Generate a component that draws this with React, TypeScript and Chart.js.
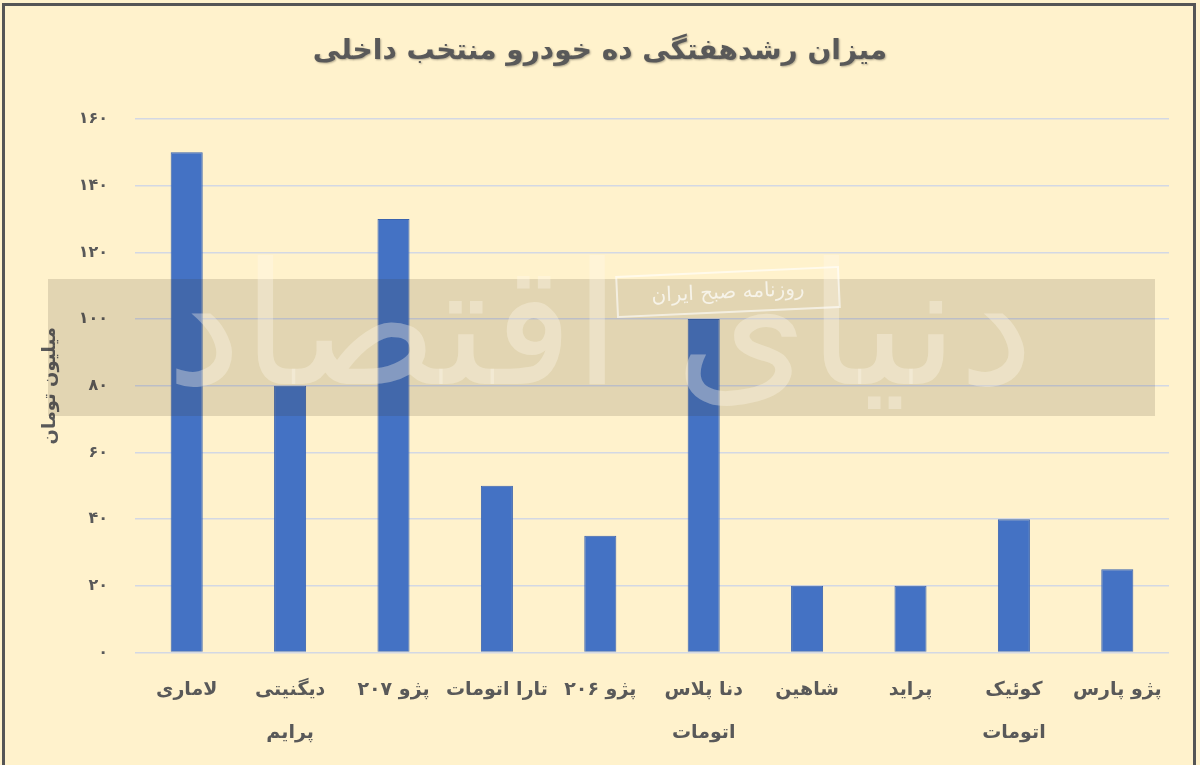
import React, { useEffect, useRef } from "react";
import { Chart, registerables } from "chart.js";

Chart.register(...registerables);

const chartTitle = "میزان رشدهفتگی ده خودرو منتخب داخلی";
const yAxisTitle = "میلیون تومان";
const categories: string[][] = [
  ["لاماری"],
  ["دیگنیتی", "پرایم"],
  ["پژو ۲۰۷"],
  ["تارا اتومات"],
  ["پژو ۲۰۶"],
  ["دنا پلاس", "اتومات"],
  ["شاهین"],
  ["پراید"],
  ["کوئیک", "اتومات"],
  ["پژو پارس"],
];
const growthValues = [150, 80, 130, 50, 35, 100, 20, 20, 40, 25];
const yMin = 0;
const yMax = 160;
const yStep = 20;
const watermarkLogo = "دنیای اقتصاد";
const watermarkTag = "روزنامه صبح ایران";

const FONT = "'DejaVu Sans', 'Noto Sans', sans-serif";
const TEXT = "#595959";

const toPersian = (v: number | string) =>
  String(v).replace(/\d/g, (d) => "۰۱۲۳۴۵۶۷۸۹"[Number(d)]);

const decorPlugin = {
  id: "decor",
  beforeDraw(chart: any) {
    const { ctx, width, height } = chart;
    ctx.save();
    ctx.fillStyle = "#FFF2CC";
    ctx.fillRect(0, 0, width, height);
    ctx.restore();
  },
  afterDatasetsDraw(chart: any) {
    const { ctx } = chart;
    ctx.save();
    // grey band
    ctx.fillStyle = "rgba(60,50,35,0.15)";
    ctx.fillRect(48, 279, 1107, 137);
    // big faint logo
    ctx.font = `170px ${FONT}`;
    ctx.textAlign = "center";
    ctx.textBaseline = "middle";
    ctx.fillStyle = "rgba(255,250,235,0.35)";
    ctx.fillText(watermarkLogo, 600, 340);
    // tag box
    ctx.translate(728, 292);
    ctx.rotate(-0.045);
    ctx.strokeStyle = "rgba(255,255,255,0.6)";
    ctx.lineWidth = 2;
    ctx.strokeRect(-111, -20, 222, 40);
    ctx.fillStyle = "rgba(255,255,255,0.7)";
    ctx.font = `20px ${FONT}`;
    ctx.fillText(watermarkTag, 0, 1);
    ctx.restore();
  },
  afterDraw(chart: any) {
    const { ctx } = chart;
    ctx.save();
    ctx.font = `bold 28px ${FONT}`;
    ctx.textAlign = "center";
    ctx.textBaseline = "middle";
    ctx.shadowColor = "rgba(0,0,0,0.3)";
    ctx.shadowOffsetX = 1;
    ctx.shadowOffsetY = 1;
    ctx.shadowBlur = 2;
    ctx.fillStyle = TEXT;
    ctx.fillText(chartTitle, 600, 52);
    ctx.shadowColor = "transparent";
    ctx.strokeStyle = "#555555";
    ctx.lineWidth = 3;
    ctx.strokeRect(3.5, 4.5, 1191, 800);
    ctx.restore();
  },
};

export default function App() {
  const canvasRef = useRef<HTMLCanvasElement | null>(null);

  useEffect(() => {
    if (!canvasRef.current) return;
    const chart = new Chart(canvasRef.current, {
      type: "bar",
      data: {
        labels: categories,
        datasets: [
          {
            data: growthValues,
            backgroundColor: "#4472C4",
            borderColor: "#3A63AE",
            borderWidth: 1,
            barPercentage: 0.31,
            categoryPercentage: 1,
          },
        ],
      },
      options: {
        responsive: false,
        animation: false,
        devicePixelRatio: 1,
        layout: { padding: { left: 20, right: 31, top: 119, bottom: 3 } },
        plugins: {
          legend: { display: false },
          tooltip: { enabled: false },
          title: { display: false },
        },
        scales: {
          x: {
            grid: { display: false },
            border: { display: false },
            ticks: {
              color: TEXT,
              font: { family: FONT, size: 19, weight: "bold", lineHeight: 2.25 },
              padding: 8,
              maxRotation: 0,
              autoSkip: false,
            },
          },
          y: {
            min: yMin,
            max: yMax,
            afterFit: (s: any) => {
              s.width = 115;
            },
            grid: { color: "#D3D8E4", lineWidth: 1.5, drawTicks: false },
            border: { display: false },
            ticks: {
              stepSize: yStep,
              color: TEXT,
              font: { family: FONT, size: 16, weight: "bold" },
              padding: 27,
              callback: (v: any) => toPersian(v),
            },
            title: {
              display: true,
              text: yAxisTitle,
              color: TEXT,
              font: { family: FONT, size: 18, weight: "bold" },
              padding: { top: 20, bottom: 0 },
            },
          },
        },
      },
      plugins: [decorPlugin],
    });
    return () => chart.destroy();
  }, []);

  return (
    <div style={{ position: "absolute", left: 0, top: 0, width: 1200, height: 765 }}>
      <canvas ref={canvasRef} width={1200} height={765} style={{ display: "block" }} />
    </div>
  );
}
